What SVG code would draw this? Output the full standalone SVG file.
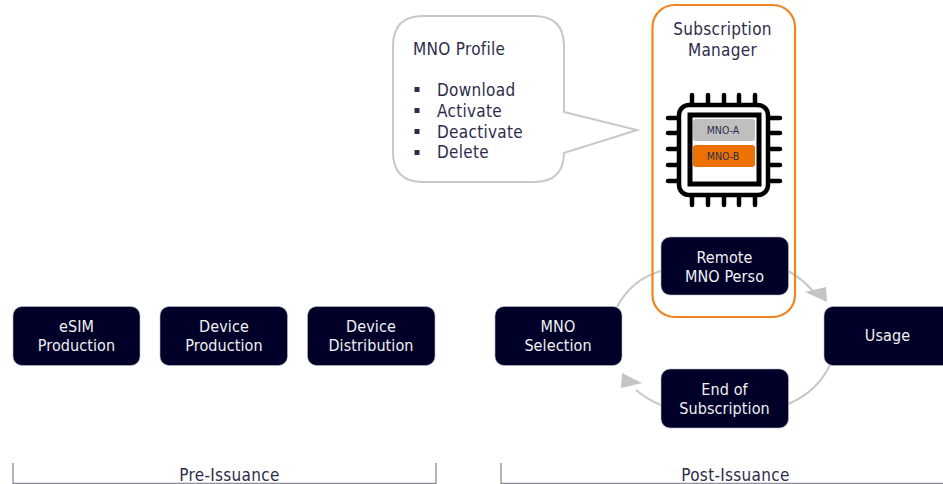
<svg xmlns="http://www.w3.org/2000/svg" width="943" height="484" viewBox="0 0 943 484">
<style>
text{font-family:"DejaVu Sans","Noto Sans",sans-serif;font-stretch:condensed;font-size:16px;letter-spacing:.1px;text-anchor:middle}
.box{fill:#000028;stroke:#b8b8c8;stroke-width:.6}
.w{fill:#f2f2f2}
.d{fill:#2d2d4b}
.t{font-size:17px;letter-spacing:.3px}
.l{text-anchor:start}
.c{fill:none;stroke:#c8c8c8;stroke-width:2}
.h{fill:#c4c4c4}
.p{stroke:#000;stroke-width:4.5;stroke-linecap:round;fill:none}
.b{fill:none;stroke:#8c8c9c;stroke-width:1.3}
.s{font-size:10.500px;letter-spacing:0}
</style>
<rect width="943" height="484" fill="#fff"/>
<g id="connectors">
<path class="c" d="M661 271Q632 279 617 307"/>
<path class="c" d="M788 271Q800 277 813 291"/>
<polygon class="h" points="805,292 826,287 827,302"/>
<path class="c" d="M830 365Q817 392 788 404"/>
<path class="c" d="M661 405Q648 400 636 390"/>
<polygon class="h" points="622,373 642,383 621,388"/>
</g>
<g id="subscription-manager">
<rect x="652.500" y="5" width="142.500" height="312" rx="22" fill="none" stroke="#f0851e" stroke-width="2.200"/>
<text class="d t" x="722.500" y="34.500">Subscription</text>
<text class="d t" x="722.500" y="55.500">Manager</text>
</g>
<g id="chip">
<path class="p" d="M692 95V104M708 95V104M724 95V104M739 95V104M755 95V104M692 197V205M708 197V205M724 197V205M739 197V205M755 197V205M668 118H679M668 133H679M668 149H679M668 165H679M668 181H679M768 118H780M768 133H780M768 149H780M768 165H780M768 181H780"/>
<rect x="679" y="105" width="89" height="90" rx="10" fill="#fff" stroke="#000" stroke-width="4.500"/>
<rect x="690" y="115" width="69" height="69" fill="#fff" stroke="#000" stroke-width="5"/>
<rect x="693" y="119" width="62" height="22" rx="3" fill="#bfbfbf"/>
<text class="d s" x="723" y="134">MNO-A</text>
<rect x="693" y="145" width="62" height="22" rx="3" fill="#ee7203"/>
<text class="d s" x="723" y="160">MNO-B</text>
</g>
<g id="mno-profile">
<path d="M423 16H534Q564 16 564 46V112L637 130L564 153V152Q564 182 534 182H423Q393 182 393 152V46Q393 16 423 16Z" fill="#fff" stroke="#c8c8c8" stroke-width="2"/>
<text class="d l t" x="413" y="54.500">MNO Profile</text>
<g fill="#2d2d4b"><rect x="414.500" y="87" width="5" height="5"/><rect x="414.500" y="108" width="5" height="5"/><rect x="414.500" y="129" width="5" height="5"/><rect x="414.500" y="150" width="5" height="5"/></g>
<text class="d l t" x="437" y="95.500">Download</text>
<text class="d l t" x="437" y="116.500">Activate</text>
<text class="d l t" x="437" y="137.500">Deactivate</text>
<text class="d l t" x="437" y="158">Delete</text>
</g>
<g id="esim-production"><rect class="box" x="13" y="306.500" width="127" height="59" rx="9"/><text class="w" x="76.500" y="332">eSIM</text><text class="w" x="76.500" y="351">Production</text></g>
<g id="device-production"><rect class="box" x="160" y="306.500" width="127.500" height="59" rx="9"/><text class="w" x="224" y="332">Device</text><text class="w" x="224" y="351">Production</text></g>
<g id="device-distribution"><rect class="box" x="307.500" y="306.500" width="127.500" height="59" rx="9"/><text class="w" x="371" y="332">Device</text><text class="w" x="371" y="351">Distribution</text></g>
<g id="mno-selection"><rect class="box" x="495" y="306.500" width="127" height="59" rx="9"/><text class="w" x="558" y="332">MNO</text><text class="w" x="558" y="351">Selection</text></g>
<g id="remote-mno-perso"><rect class="box" x="661" y="237" width="127.500" height="58" rx="9"/><text class="w" x="724.500" y="263">Remote</text><text class="w" x="724.500" y="282">MNO Perso</text></g>
<g id="usage"><rect class="box" x="824" y="306.500" width="130" height="59" rx="9"/><text class="w" x="887.500" y="341">Usage</text></g>
<g id="end-of-subscription"><rect class="box" x="661" y="369" width="127.500" height="59" rx="9"/><text class="w" x="724.500" y="395">End of</text><text class="w" x="724.500" y="414">Subscription</text></g>
<g id="pre-issuance"><path class="b" d="M13 463V483.500H436V463"/><text class="d t" x="229.500" y="481">Pre-Issuance</text></g>
<g id="post-issuance"><path class="b" d="M501 463V483.500H943"/><text class="d t" x="735.500" y="481">Post-Issuance</text></g>
</svg>
